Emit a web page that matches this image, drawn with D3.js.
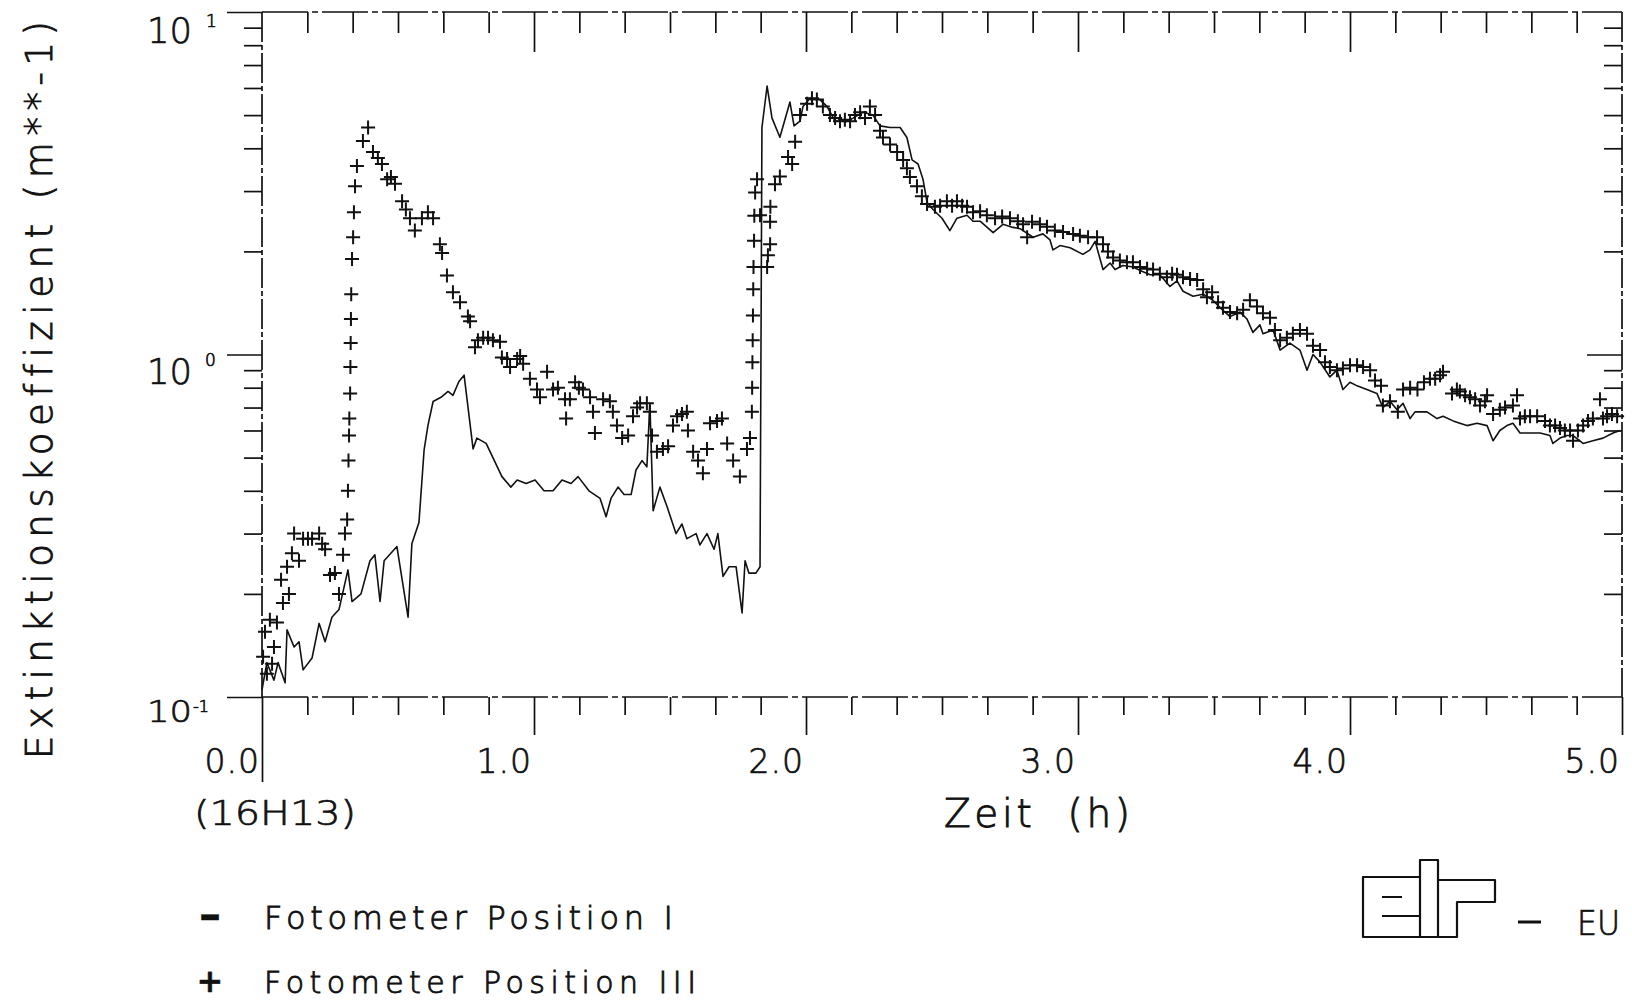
<!DOCTYPE html>
<html>
<head>
<meta charset="utf-8">
<script src="https://cdn.jsdelivr.net/npm/d3@7"></script>
<style>
  html, body { margin: 0; padding: 0; background: #fff; }
  svg { display: block; }
  text { font-family: "DejaVu Sans", "Liberation Sans", sans-serif; fill: #111; stroke: #111; stroke-width: 0.7px;
         font-variant-ligatures: none; font-feature-settings: "liga" 0, "clig" 0; }
</style>
</head>
<body>
<svg id="chart" width="1632" height="1003"></svg>
<script>
// ---------------- data ----------------
// time in hours since 16H13, extinction coefficient in m**-1
const posI = [[0,0.105],[0.018,0.126],[0.044,0.112],[0.059,0.126],[0.085,0.11],[0.092,0.157],[0.118,0.14],[0.136,0.145],[0.151,0.12],[0.184,0.13],[0.21,0.164],[0.232,0.145],[0.257,0.171],[0.283,0.18],[0.316,0.235],[0.331,0.19],[0.364,0.2],[0.397,0.25],[0.415,0.26],[0.434,0.19],[0.449,0.25],[0.496,0.275],[0.537,0.171],[0.551,0.28],[0.577,0.323],[0.596,0.527],[0.61,0.62],[0.629,0.729],[0.658,0.75],[0.684,0.78],[0.702,0.76],[0.724,0.834],[0.743,0.87],[0.776,0.53],[0.79,0.57],[0.824,0.55],[0.849,0.5],[0.882,0.44],[0.915,0.41],[0.938,0.43],[0.971,0.42],[1.004,0.43],[1.037,0.4],[1.07,0.4],[1.103,0.43],[1.136,0.42],[1.162,0.44],[1.202,0.4],[1.243,0.38],[1.265,0.336],[1.283,0.38],[1.309,0.41],[1.331,0.39],[1.357,0.39],[1.375,0.46],[1.397,0.49],[1.415,0.47],[1.426,0.72],[1.438,0.35],[1.463,0.41],[1.489,0.36],[1.522,0.30],[1.544,0.32],[1.562,0.29],[1.596,0.3],[1.61,0.278],[1.636,0.3],[1.662,0.27],[1.676,0.3],[1.695,0.225],[1.717,0.24],[1.743,0.24],[1.765,0.176],[1.776,0.25],[1.79,0.23],[1.816,0.23],[1.831,0.24],[1.838,4.6],[1.857,6.08],[1.875,4.9],[1.904,4.31],[1.941,5.46],[1.956,4.65],[1.978,4.8],[1.989,5.3],[2.015,5.6],[2.051,5.55],[2.077,5.3],[2.107,4.8],[2.15,4.8],[2.173,4.9],[2.21,5.1],[2.246,5.0],[2.272,4.65],[2.309,4.6],[2.346,4.6],[2.371,4.3],[2.39,3.7],[2.412,3.6],[2.43,3.25],[2.445,2.78],[2.467,2.65],[2.5,2.5],[2.529,2.3],[2.555,2.5],[2.592,2.55],[2.614,2.45],[2.64,2.45],[2.688,2.27],[2.724,2.4],[2.761,2.35],[2.787,2.33],[2.835,2.2],[2.871,2.25],[2.897,2.16],[2.908,2.02],[2.934,2.08],[2.971,2.05],[3.018,1.96],[3.044,2.02],[3.063,2.14],[3.092,1.77],[3.118,1.85],[3.136,1.77],[3.165,1.82],[3.202,1.8],[3.235,1.75],[3.265,1.71],[3.301,1.71],[3.338,1.58],[3.364,1.64],[3.386,1.53],[3.423,1.48],[3.46,1.5],[3.496,1.44],[3.522,1.37],[3.559,1.29],[3.596,1.33],[3.621,1.27],[3.643,1.16],[3.669,1.22],[3.68,1.15],[3.717,1.18],[3.743,1.03],[3.779,1.08],[3.816,1.03],[3.842,0.9],[3.864,1.0],[3.89,0.95],[3.926,0.86],[3.952,0.9],[3.974,0.79],[4.0,0.83],[4.026,0.81],[4.062,0.79],[4.099,0.77],[4.121,0.7],[4.147,0.73],[4.173,0.69],[4.195,0.72],[4.221,0.65],[4.239,0.68],[4.283,0.68],[4.32,0.65],[4.342,0.66],[4.379,0.64],[4.404,0.63],[4.43,0.62],[4.467,0.63],[4.504,0.62],[4.526,0.56],[4.551,0.6],[4.577,0.62],[4.599,0.63],[4.625,0.59],[4.662,0.59],[4.699,0.59],[4.735,0.58],[4.746,0.55],[4.772,0.57],[4.798,0.58],[4.82,0.58],[4.857,0.55],[4.893,0.56],[4.93,0.57],[4.967,0.59],[4.993,0.6]];

const posIII = [[0.004,0.131],[0.011,0.155],[0.018,0.117],[0.029,0.168],[0.037,0.125],[0.044,0.14],[0.055,0.165],[0.07,0.22],[0.077,0.188],[0.092,0.24],[0.099,0.2],[0.11,0.263],[0.118,0.3],[0.136,0.25],[0.151,0.29],[0.169,0.29],[0.184,0.29],[0.21,0.3],[0.221,0.28],[0.232,0.27],[0.25,0.227],[0.268,0.23],[0.283,0.2],[0.298,0.26],[0.305,0.3],[0.313,0.33],[0.316,0.4],[0.318,0.49],[0.32,0.58],[0.321,0.65],[0.324,0.77],[0.325,0.92],[0.326,1.08],[0.327,1.27],[0.328,1.5],[0.331,1.9],[0.335,2.2],[0.338,2.6],[0.342,3.1],[0.349,3.55],[0.371,4.2],[0.39,4.6],[0.408,3.9],[0.426,3.75],[0.441,3.6],[0.46,3.25],[0.474,3.3],[0.489,3.15],[0.515,2.8],[0.529,2.65],[0.544,2.5],[0.562,2.3],[0.588,2.5],[0.61,2.6],[0.629,2.5],[0.654,2.1],[0.662,1.98],[0.68,1.7],[0.702,1.52],[0.728,1.42],[0.757,1.29],[0.765,1.25],[0.783,1.05],[0.794,1.1],[0.813,1.12],[0.831,1.12],[0.849,1.1],[0.875,1.09],[0.882,0.98],[0.901,0.97],[0.912,0.92],[0.938,0.97],[0.949,0.99],[0.96,0.94],[0.985,0.85],[1.011,0.79],[1.022,0.75],[1.048,0.89],[1.07,0.79],[1.088,0.8],[1.114,0.74],[1.118,0.65],[1.132,0.74],[1.151,0.83],[1.165,0.8],[1.18,0.79],[1.206,0.75],[1.217,0.68],[1.224,0.59],[1.254,0.74],[1.279,0.73],[1.29,0.68],[1.305,0.62],[1.324,0.57],[1.346,0.58],[1.364,0.66],[1.379,0.7],[1.39,0.72],[1.415,0.72],[1.426,0.68],[1.434,0.58],[1.452,0.52],[1.474,0.53],[1.493,0.54],[1.511,0.62],[1.526,0.66],[1.544,0.67],[1.562,0.68],[1.566,0.6],[1.585,0.52],[1.603,0.49],[1.621,0.45],[1.636,0.53],[1.647,0.63],[1.673,0.64],[1.691,0.65],[1.71,0.55],[1.732,0.49],[1.757,0.44],[1.783,0.53],[1.794,0.57],[1.801,0.68],[1.802,0.8],[1.803,0.95],[1.804,1.1],[1.805,1.3],[1.806,1.55],[1.807,1.8],[1.809,2.15],[1.81,2.54],[1.813,2.97],[1.82,3.25],[1.831,2.55],[1.857,1.8],[1.86,1.95],[1.868,2.1],[1.868,2.44],[1.869,2.7],[1.886,3.14],[1.904,3.31],[1.934,3.77],[1.949,3.6],[1.96,4.18],[1.978,5.0],[2.004,5.4],[2.022,5.6],[2.04,5.55],[2.062,5.3],[2.088,5.0],[2.107,4.9],[2.125,4.8],[2.143,4.85],[2.162,4.8],[2.18,5.0],[2.199,5.1],[2.217,4.9],[2.235,5.3],[2.254,5.0],[2.272,4.5],[2.283,4.3],[2.309,4.1],[2.335,3.9],[2.357,3.7],[2.371,3.5],[2.382,3.3],[2.408,3.1],[2.426,2.9],[2.445,2.75],[2.474,2.7],[2.493,2.72],[2.518,2.8],[2.537,2.72],[2.555,2.8],[2.574,2.72],[2.592,2.7],[2.614,2.6],[2.64,2.62],[2.665,2.55],[2.695,2.5],[2.721,2.53],[2.75,2.5],[2.779,2.45],[2.798,2.4],[2.813,2.2],[2.831,2.44],[2.86,2.4],[2.886,2.36],[2.915,2.3],[2.945,2.28],[2.982,2.25],[3.007,2.22],[3.037,2.2],[3.07,2.2],[3.092,2.1],[3.11,2.0],[3.129,1.92],[3.154,1.88],[3.18,1.86],[3.202,1.86],[3.228,1.8],[3.254,1.78],[3.276,1.77],[3.301,1.72],[3.327,1.68],[3.346,1.72],[3.364,1.71],[3.386,1.68],[3.412,1.66],[3.438,1.65],[3.46,1.55],[3.474,1.47],[3.493,1.52],[3.515,1.42],[3.533,1.37],[3.559,1.33],[3.585,1.32],[3.607,1.35],[3.632,1.44],[3.658,1.38],[3.68,1.32],[3.706,1.28],[3.724,1.18],[3.743,1.1],[3.768,1.12],[3.79,1.15],[3.816,1.18],[3.842,1.15],[3.864,1.06],[3.89,1.03],[3.908,0.95],[3.926,0.92],[3.952,0.9],[3.974,0.91],[4.0,0.93],[4.026,0.93],[4.048,0.92],[4.074,0.9],[4.092,0.84],[4.114,0.81],[4.121,0.71],[4.147,0.73],[4.176,0.68],[4.195,0.79],[4.221,0.8],[4.248,0.79],[4.272,0.83],[4.294,0.85],[4.313,0.85],[4.331,0.87],[4.342,0.89],[4.375,0.77],[4.393,0.79],[4.404,0.78],[4.423,0.76],[4.441,0.75],[4.46,0.74],[4.478,0.71],[4.496,0.73],[4.504,0.76],[4.526,0.67],[4.551,0.69],[4.57,0.7],[4.599,0.71],[4.614,0.76],[4.625,0.65],[4.643,0.66],[4.662,0.66],[4.688,0.66],[4.717,0.64],[4.735,0.62],[4.754,0.62],[4.772,0.61],[4.79,0.6],[4.809,0.6],[4.82,0.56],[4.838,0.6],[4.857,0.62],[4.875,0.64],[4.893,0.65],[4.919,0.74],[4.93,0.65],[4.945,0.66],[4.963,0.67],[4.982,0.66]];

const xDomain = [0, 5];
const yDomain = [0.1, 10];
const xTickLabels = ["0.0", "1.0", "2.0", "3.0", "4.0", "5.0"];
const xTickValues = [0, 1, 2, 3, 4, 5];
const yDecades = [0.1, 1, 10];
const yDecadeExp = ["-1", "0", "1"];
const xTitle = "Zeit  (h)";
const xStart = "(16H13)";
const yTitle = "Extinktionskoeffizient  (m**-1)";
const legendLabels = ["Fotometer  Position  I", "Fotometer  Position  III"];
const legendSymbols = ["–", "+"];
const logoText = "EU";

// ---------------- drawing ----------------
const svg = d3.select("#chart");
svg.append("rect").attr("width", 1632).attr("height", 1003).attr("fill", "#fff");

const x = d3.scaleLinear().domain(xDomain).range([262, 1622]);
const y = d3.scaleLog().domain(yDomain).range([697, 12]);
const ink = "#111";

// tick value sets
const sixths = d3.range(0, 31).map(i => i / 6);
const minorT = sixths.filter((t, i) => i % 6 !== 0);
const hourInner = [1, 2, 3, 4];
const minorY = [];
[0.1, 1].forEach(d => { for (let k = 2; k <= 9; k++) minorY.push(+(d * k).toFixed(3)); });

function styleAxis(g) {
  g.select(".domain").remove();
  g.selectAll(".tick line").attr("stroke", ink).attr("stroke-width", 1.7);
  g.selectAll(".tick text").remove();
}

// bottom axis ticks (outside, downward)
svg.append("g").attr("transform", "translate(0,697)")
  .call(d3.axisBottom(x).tickValues(minorT).tickSize(18).tickFormat("")).call(styleAxis);
svg.append("g").attr("transform", "translate(0,697)")
  .call(d3.axisBottom(x).tickValues(hourInner.concat([5])).tickSize(38).tickFormat("")).call(styleAxis);
svg.append("g").attr("transform", "translate(0,697)")
  .call(d3.axisBottom(x).tickValues([0]).tickSize(85).tickFormat("")).call(styleAxis);

// top axis ticks (inside, downward)
svg.append("g").attr("transform", "translate(0,12)")
  .call(d3.axisBottom(x).tickValues(minorT).tickSize(21).tickFormat("")).call(styleAxis);
svg.append("g").attr("transform", "translate(0,12)")
  .call(d3.axisBottom(x).tickValues(hourInner).tickSize(40).tickFormat("")).call(styleAxis);

// left axis ticks (outside)
svg.append("g").attr("transform", "translate(262,0)")
  .call(d3.axisLeft(y).tickValues(minorY).tickSize(18).tickFormat("")).call(styleAxis);
svg.append("g").attr("transform", "translate(262,0)")
  .call(d3.axisLeft(y).tickValues(yDecades).tickSize(35).tickFormat("")).call(styleAxis);

// right axis ticks (inside)
svg.append("g").attr("transform", "translate(1622,0)")
  .call(d3.axisLeft(y).tickValues(minorY).tickSize(18).tickFormat("")).call(styleAxis);
svg.append("g").attr("transform", "translate(1622,0)")
  .call(d3.axisLeft(y).tickValues([1]).tickSize(35).tickFormat("")).call(styleAxis);

// frame (plotter dash-dot look)
const frame = svg.append("g").attr("stroke", ink).attr("stroke-width", 1.7).attr("fill", "none");
frame.append("line").attr("x1", x(0)).attr("x2", x(5)).attr("y1", y(10)).attr("y2", y(10))
  .attr("stroke-dasharray", "46,4,6,4");
frame.append("line").attr("x1", x(0)).attr("x2", x(5)).attr("y1", y(0.1)).attr("y2", y(0.1))
  .attr("stroke-dasharray", "46,4,6,4");
frame.append("line").attr("x1", x(0)).attr("x2", x(0)).attr("y1", y(10)).attr("y2", y(0.1))
  .attr("stroke-dasharray", "30,3,5,3");
frame.append("line").attr("x1", x(5)).attr("x2", x(5)).attr("y1", y(10)).attr("y2", y(0.1))
  .attr("stroke-dasharray", "30,3,5,3");

// y tick labels: 10 with exponent
const yLab = svg.append("g");
const yLabSpec = [
  { v: 10, base: 43, fs: 36, sup: 27, sfs: 17, sx: 206 },
  { v: 1, base: 384, fs: 36, sup: 366, sfs: 17, sx: 205 },
  { v: 0.1, base: 722, fs: 30, sup: 712, sfs: 16, sx: 193 }
];
yLabSpec.forEach((s, i) => {
  const e = yDecadeExp[yDecades.indexOf(s.v)];
  yLab.append("text").attr("x", 147).attr("y", s.base).attr("font-size", s.fs)
    .attr("font-weight", 200).attr("textLength", 45).attr("lengthAdjust", "spacingAndGlyphs").text("10");
  yLab.append("text").attr("x", s.sx).attr("y", s.sup).attr("font-size", s.sfs)
    .attr("font-weight", 200).text(e);
});

// x tick labels
svg.append("g").selectAll("text").data(xTickValues).join("text")
  .attr("x", d => x(d) - 2).attr("y", 773).attr("text-anchor", "end")
  .attr("font-size", 33).attr("font-weight", 200).attr("letter-spacing", 1)
  .text((d, i) => xTickLabels[i]);

svg.append("text").attr("x", 194).attr("y", 825).attr("font-size", 34).attr("font-weight", 200)
  .attr("textLength", 162).attr("lengthAdjust", "spacingAndGlyphs").text(xStart);
svg.append("text").attr("x", 944).attr("y", 827).attr("font-size", 39).attr("font-weight", 200)
  .style("stroke-width", "0.9px")
  .attr("textLength", 186).attr("lengthAdjust", "spacing").attr("xml:space", "preserve").text(xTitle);

// y title
svg.append("text").attr("transform", "translate(52,390) rotate(-90)")
  .attr("text-anchor", "middle").attr("font-size", 37).attr("font-weight", 200)
  .style("stroke-width", "0.9px")
  .attr("textLength", 738).attr("lengthAdjust", "spacing").text(yTitle);

// legend
const leg = svg.append("g");
const legY = [929, 993];
leg.selectAll("text.lab").data(legendLabels).join("text").attr("class", "lab")
  .attr("x", 264).attr("y", (d, i) => legY[i]).attr("font-size", (d, i) => i === 0 ? 32 : 30)
  .attr("font-weight", 200)
  .style("stroke-width", "0.9px")
  .attr("textLength", (d, i) => i === 0 ? 409 : 432).attr("lengthAdjust", "spacing").text(d => d);
leg.selectAll("text.sym").data(legendSymbols).join("text").attr("class", "sym")
  .attr("x", 210).attr("y", (d, i) => legY[i] - (i === 0 ? 0 : 1)).attr("text-anchor", "middle")
  .attr("font-size", (d, i) => i === 0 ? 44 : 32).attr("font-weight", 700).style("stroke-width", "0.4px")
  .text(d => d);

// ---------------- series ----------------
const line = d3.line().x(d => x(d[0])).y(d => y(d[1]));
svg.append("path").datum(posI).attr("d", line)
  .attr("fill", "none").attr("stroke", ink).attr("stroke-width", 1.6).attr("stroke-linejoin", "round");

svg.append("g").selectAll("path").data(posIII).join("path")
  .attr("transform", d => `translate(${x(d[0])},${y(d[1])})`)
  .attr("d", "M-7,0H7M0,-7V7")
  .attr("stroke", ink).attr("stroke-width", 2).attr("fill", "none");

// ---------------- logo ----------------
const logo = svg.append("g").attr("fill", "none").attr("stroke", ink).attr("stroke-width", 2.2)
  .attr("stroke-linejoin", "round");
logo.append("path").attr("d", "M1420,877 H1363 V937 H1420");
logo.append("path").attr("d", "M1420,937 V860 H1438 V937 Z");
logo.append("path").attr("d", "M1438,880 H1495 V902 H1457 V937 H1438");
logo.append("path").attr("d", "M1382,897 H1402 M1382,916 H1420");
svg.append("line").attr("x1", 1518).attr("x2", 1541).attr("y1", 922).attr("y2", 922)
  .attr("stroke", ink).attr("stroke-width", 3);
svg.append("text").attr("x", 1577).attr("y", 935).attr("font-size", 33).attr("font-weight", 200)
  .attr("textLength", 43).attr("lengthAdjust", "spacingAndGlyphs").text(logoText);
</script>
</body>
</html>
